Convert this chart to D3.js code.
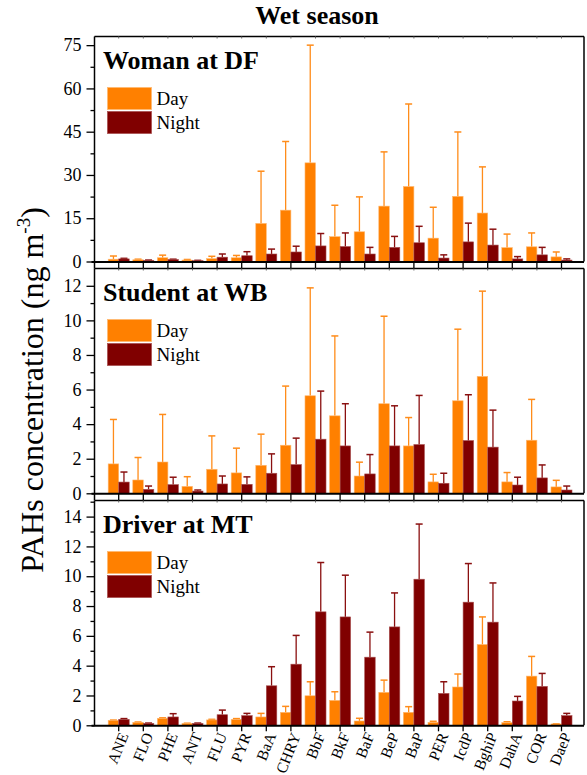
<!DOCTYPE html>
<html><head><meta charset="utf-8">
<script src="https://cdn.jsdelivr.net/npm/d3@7"></script>
<style>body{margin:0;background:#fff}</style>
</head><body>
<svg id="chart" width="587" height="775"></svg>
<script>
const categories = ["ANE","FLO","PHE","ANT","FLU","PYR","BaA","CHRY","BbF","BkF","BaF","BeP","BaP","PER","IcdP","BghiP","DahA","COR","DaeP"];
const seriesNames = ["Day","Night"];

const womanDay    = [0.8,0.6,1.3,0.5,1.0,1.3,13.2,17.8,34.2,8.6,10.3,19.2,26.0,8.1,22.6,16.8,4.8,5.1,1.6];
const womanDaySD  = [1.1,0.2,0.9,0.2,0.8,0.8,18.1,23.8,40.8,10.9,12.1,18.8,28.6,10.7,22.3,16.0,4.7,4.8,1.7];
const womanNight  = [0.9,0.4,0.7,0.3,1.5,2.0,2.6,3.3,5.4,5.2,2.6,4.9,6.5,1.2,6.8,5.7,0.9,2.3,0.5];
const womanNightSD= [0.2,0.1,0.1,0.1,1.1,1.4,1.7,2.0,4.3,4.7,2.3,3.8,5.7,1.1,6.5,5.5,0.8,2.6,0.4];

const studentDay    = [1.70,0.77,1.81,0.40,1.39,1.18,1.62,2.78,5.64,4.48,1.00,5.18,2.74,0.66,5.35,6.76,0.66,3.07,0.37];
const studentDaySD  = [2.57,1.30,2.75,0.56,1.93,1.43,1.80,3.42,6.24,4.62,0.80,5.06,1.64,0.44,4.14,4.93,0.54,2.36,0.38];
const studentNight  = [0.65,0.23,0.50,0.13,0.54,0.52,1.16,1.66,3.13,2.74,1.12,2.74,2.82,0.58,3.05,2.67,0.48,0.89,0.19];
const studentNightSD= [0.58,0.19,0.43,0.06,0.46,0.43,1.12,1.53,2.78,2.44,1.12,2.32,2.84,0.58,2.65,2.14,0.45,0.75,0.23];

const driverDay    = [0.33,0.20,0.47,0.13,0.36,0.40,0.56,0.87,1.98,1.67,0.29,2.21,0.87,0.20,2.57,5.42,0.18,3.30,0.09];
const driverDaySD  = [0.02,0.02,0.03,0.01,0.04,0.05,0.24,0.40,0.94,0.58,0.18,0.82,0.38,0.07,0.87,1.85,0.06,1.32,0.01];
const driverNight  = [0.40,0.13,0.56,0.13,0.71,0.65,2.65,4.10,7.61,7.27,4.57,6.60,9.80,2.14,8.26,6.92,1.63,2.61,0.65];
const driverNightSD= [0.05,0.02,0.22,0.02,0.31,0.15,1.28,1.93,3.31,2.80,1.68,2.28,3.70,0.78,2.59,2.63,0.31,0.87,0.15];

const panelTitles = ["Woman at DF","Student at WB","Driver at MT"];
const womanTicks   = [0,15,30,45,60,75];
const studentTicks = [0,2,4,6,8,10,12];
const driverTicks  = [0,2,4,6,8,10,12,14];
const chartTitle = "Wet season";
const yLabel = "PAHs concentration (ng m";
const yLabelSup = "-3";

const FONT = "'Liberation Serif'";
const colors = {Day:"#FF8000", Night:"#800000"};
const errColors = {Day:"#FF8C1A", Night:"#8A1010"};

const panels = [
  {title:panelTitles[0], day:womanDay, daySD:womanDaySD, night:womanNight, nightSD:womanNightSD, ticks:womanTicks, minorStep:7.5, max:78, top:36.5, bottom:261.5},
  {title:panelTitles[1], day:studentDay, daySD:studentDaySD, night:studentNight, nightSD:studentNightSD, ticks:studentTicks, minorStep:1, max:13, top:268.5, bottom:493.3},
  {title:panelTitles[2], day:driverDay, daySD:driverDaySD, night:driverNight, nightSD:driverNightSD, ticks:driverTicks, minorStep:1, max:15.08, top:500.5, bottom:725.3}
];

const svg = d3.select("#chart");
const L = 94.5, R = 584;

const x = d3.scaleBand().domain(categories).range([106.4, 573.8]).paddingInner(0).paddingOuter(0);
const xs = d3.scaleBand().domain(seriesNames).range([0, x.bandwidth()]).paddingInner(0).paddingOuter(0.17);

function txt(sel, size, bold){
  return sel.style("font-family", FONT).style("font-size", size+"px")
    .style("font-weight", bold ? "bold" : "normal").attr("fill","#000");
}

txt(svg.append("text").attr("x", 317).attr("y", 24).attr("text-anchor","middle").text(chartTitle), 26, true);

const yl = txt(svg.append("text").attr("transform","translate(43,390) rotate(-90)")
  .attr("text-anchor","middle"), 32, false);
yl.append("tspan").text(yLabel);
yl.append("tspan").style("font-size","19px").attr("dy", -13).text(yLabelSup);
yl.append("tspan").attr("dy", 13).text(")");

panels.forEach((p, pi) => {
  const y = d3.scaleLinear().domain([0, p.max]).range([p.bottom, p.top]);
  const g = svg.append("g");

  g.append("line").attr("x1",L).attr("x2",R).attr("y1",p.top).attr("y2",p.top).attr("stroke","#000").attr("stroke-width",1.5);
  g.append("line").attr("x1",R).attr("x2",R).attr("y1",p.top).attr("y2",p.bottom).attr("stroke","#000").attr("stroke-width",1.5);

  const topAx = g.append("g").attr("transform",`translate(0,${p.top})`)
    .call(d3.axisTop(x).tickSize(-2).tickFormat(""));
  topAx.select(".domain").remove();
  topAx.selectAll("line").attr("stroke","#666");

  const data = categories.map((c,i)=>({c, vals:[
    {s:"Day", v:p.day[i], sd:p.daySD[i]},
    {s:"Night", v:p.night[i], sd:p.nightSD[i]}
  ]}));

  const grp = g.selectAll(".grp").data(data).join("g")
    .attr("transform", d=>`translate(${x(d.c)},0)`);

  grp.selectAll(".err").data(d=>d.vals).join("g").each(function(d){
    const e = d3.select(this);
    const cx = xs(d.s) + xs.bandwidth()/2;
    const yt = y(d.v + d.sd);
    e.append("line").attr("x1",cx).attr("x2",cx).attr("y1",y(d.v)).attr("y2",yt)
      .attr("stroke",errColors[d.s]).attr("stroke-width",1.3);
    e.append("line").attr("x1",cx-3.5).attr("x2",cx+3.5).attr("y1",yt).attr("y2",yt)
      .attr("stroke",errColors[d.s]).attr("stroke-width",1.5);
  });

  grp.selectAll("rect").data(d=>d.vals).join("rect")
    .attr("x", d=>xs(d.s)).attr("width", xs.bandwidth())
    .attr("y", d=>y(d.v)).attr("height", d=>p.bottom - y(d.v))
    .attr("fill", d=>colors[d.s])
    .attr("stroke", d=>d.s==="Day" ? "#FFB870" : "#A85050").attr("stroke-width",0.6);

  const ax = g.append("g").attr("transform",`translate(${L},0)`)
    .call(d3.axisLeft(y).tickValues(p.ticks).tickSize(8).tickPadding(5).tickFormat(d3.format("d")));
  ax.select(".domain").remove();
  txt(ax.selectAll("text"), 18, false);
  ax.selectAll("line").attr("stroke-width",1.3);
  const minor = d3.range(0, p.max, p.minorStep).filter(v=>!p.ticks.includes(v));
  const axm = g.append("g").attr("transform",`translate(${L},0)`)
    .call(d3.axisLeft(y).tickValues(minor).tickSize(4).tickFormat(""));
  axm.select(".domain").remove();
  axm.selectAll("line").attr("stroke-width",1.3);
  g.append("line").attr("x1",L).attr("x2",L).attr("y1",p.top).attr("y2",p.bottom+ (pi<2?7:0)).attr("stroke","#000").attr("stroke-width",1.5);

  const bx = g.append("g").attr("transform",`translate(0,${p.bottom})`)
    .call(d3.axisBottom(x).tickSize(pi<2?7:6).tickPadding(3).tickFormat(pi===2 ? d=>d : ""));
  bx.select(".domain").attr("d", `M${L-3},0.5H${R}`).attr("stroke-width",2);
  bx.selectAll("line").attr("stroke-width",1.3);
  if (pi===2) {
    txt(bx.selectAll("text"), 15.5, false)
      .attr("text-anchor","end").attr("transform","translate(5,8) rotate(-68)").attr("dy","0.35em").attr("y",0);
  }

  txt(g.append("text").attr("x",103).attr("y",p.top+32.5).text(p.title), 26, true);

  const lg = g.append("g").attr("transform",`translate(107.5,${p.top+51})`);
  seriesNames.forEach((s,k)=>{
    lg.append("rect").attr("x",0).attr("y",k*24).attr("width",44).attr("height",22)
      .attr("fill",colors[s]).attr("stroke", s==="Day" ? "#FFB870" : "#A85050").attr("stroke-width",0.8);
    txt(lg.append("text").attr("x",49).attr("y",k*24+17.5).text(s), 19, false);
  });
});
</script>
</body></html>
